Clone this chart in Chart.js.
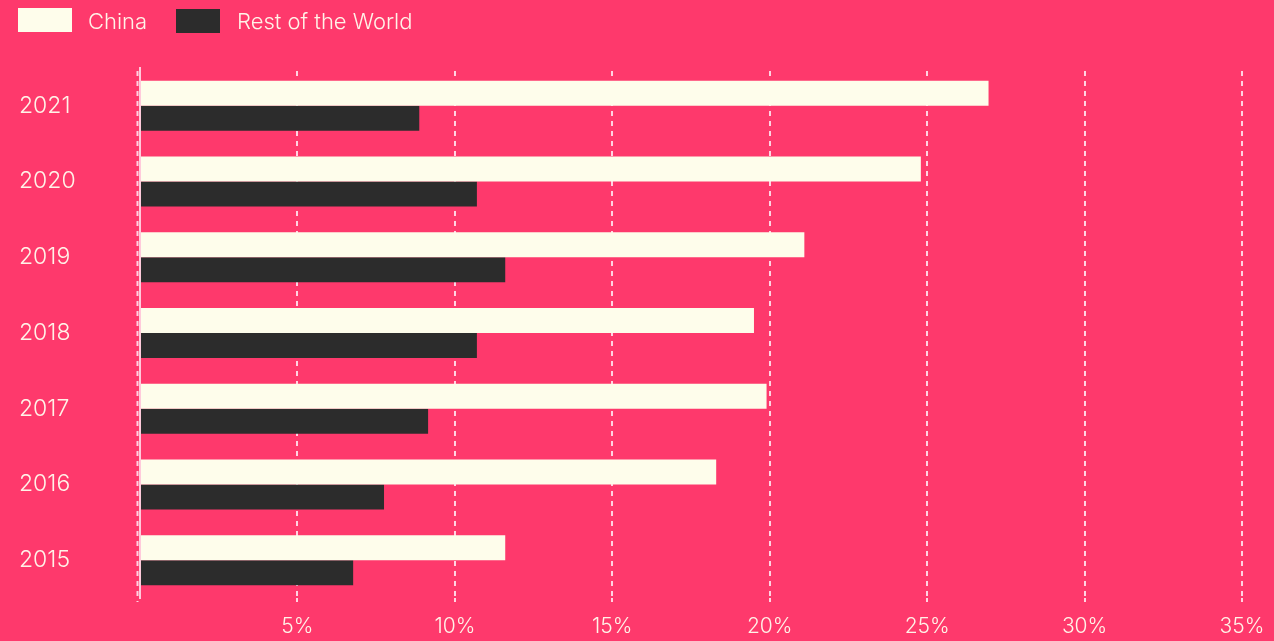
<!DOCTYPE html>
<html>
<head>
<meta charset="utf-8">
<script src="https://cdn.jsdelivr.net/npm/chart.js@4.4.1/dist/chart.umd.min.js"></script>
<style>
  html, body { margin: 0; padding: 0; background: #FE396C; }
  #wrap { position: relative; width: 1274px; height: 641px; overflow: hidden; }
  #legend { position: absolute; left: 0; top: 0; height: 40px; font-family: Inter, "Noto Sans", sans-serif; font-weight: 300; font-size: 22px; color: #FFF3E8; }
  .sw { position: absolute; }
  .lt { position: absolute; top: 8px; white-space: nowrap; }
  canvas { position: absolute; left: 0; top: 0; }
</style>
</head>
<body>
<div id="wrap">
  <canvas id="c" width="1274" height="641"></canvas>
  <div id="legend">
    <div class="sw" style="left:18px;top:8px;width:54px;height:24px;background:#FEFDEB"></div>
    <div class="lt" style="left:88px">China</div>
    <div class="sw" style="left:176px;top:9px;width:44px;height:24px;background:#2C2C2C"></div>
    <div class="lt" style="left:237px">Rest of the World</div>
  </div>
</div>
<script>
const years = ['2021', '2020', '2019', '2018', '2017', '2016', '2015'];
const chinaValues = [26.95, 24.8, 21.1, 19.5, 19.9, 18.3, 11.6];
const restOfWorldValues = [8.87, 10.7, 11.6, 10.7, 9.15, 7.75, 6.77];
const seriesNames = ['China', 'Rest of the World'];
const xTickStep = 5;
const xMax = 35;

const textColor = '#FFF3E8';
const gridColor = 'rgba(255, 228, 238, 0.9)';

const zeroDash = {
  id: 'zeroDash',
  afterDatasetsDraw(chart) {
    const { ctx, chartArea, scales } = chart;
    const x = scales.x.getPixelForValue(0) - 2.5;
    ctx.save();
    ctx.strokeStyle = gridColor;
    ctx.lineWidth = 2;
    ctx.setLineDash([5, 5]);
    ctx.lineDashOffset = 7;
    ctx.beginPath();
    ctx.moveTo(x, chartArea.top);
    ctx.lineTo(x, chartArea.bottom + 4);
    ctx.stroke();
    ctx.restore();
  }
};

new Chart(document.getElementById('c'), {
  type: 'bar',
  data: {
    labels: years,
    datasets: [
      { label: seriesNames[0], data: chinaValues, backgroundColor: '#FEFDEB', borderWidth: 0 },
      { label: seriesNames[1], data: restOfWorldValues, backgroundColor: '#2C2C2C', borderWidth: 0 }
    ]
  },
  options: {
    indexAxis: 'y',
    responsive: false,
    animation: false,
    devicePixelRatio: 1,
    categoryPercentage: 0.66,
    barPercentage: 1,
    layout: { padding: { left: 19, right: 32, top: 68, bottom: 0 } },
    plugins: { legend: { display: false }, tooltip: { enabled: false } },
    scales: {
      x: {
        min: 0, max: xMax,
        ticks: {
          stepSize: xTickStep,
          color: textColor,
          font: { family: 'Inter', size: 21, weight: 300 },
          padding: 12,
          callback: (v) => v === 0 ? '' : v + '%'
        },
        grid: { color: (c) => c.tick && c.tick.value === 0 ? 'rgba(0,0,0,0)' : gridColor, lineWidth: 2, tickLength: 4, drawTicks: true },
        border: { display: false, dash: [5, 5], dashOffset: 7 },
        afterFit: (s) => { s.height = 43; s.paddingRight = 0; }
      },
      y: {
        ticks: {
          color: textColor,
          font: { family: 'Inter', size: 23, weight: 300 },
          crossAlign: 'far',
          padding: 0
        },
        grid: { display: false },
        border: { display: true, color: 'rgba(255, 210, 225, 0.95)', width: 2 },
        afterFit: (s) => { s.width = 121; }
      }
    }
  },
  plugins: [zeroDash]
});
</script>
</body>
</html>
